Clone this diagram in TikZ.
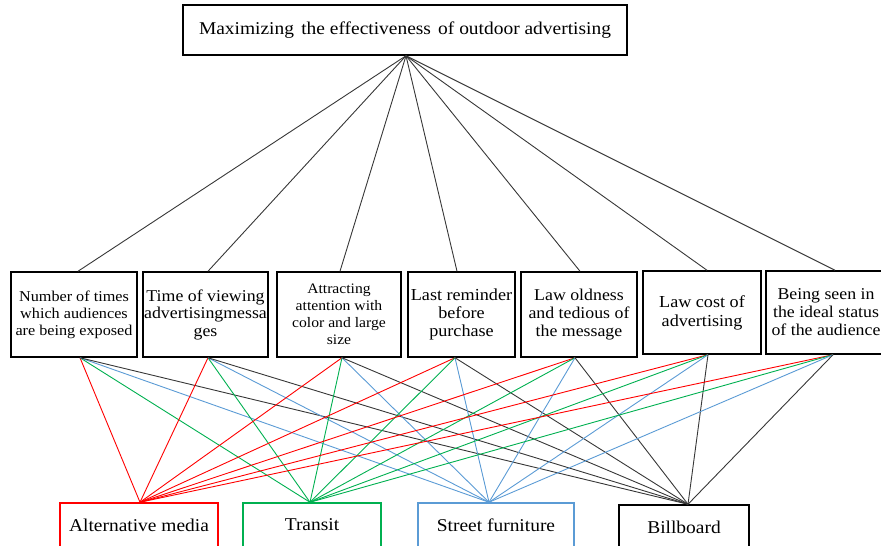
\documentclass[tikz,border=0pt]{standalone}
\usepackage{fontspec}
\setmainfont{Liberation Serif}[FakeStretch=1.08]
\usetikzlibrary{calc}
\definecolor{cred}{RGB}{255,0,0}
\definecolor{cgreen}{RGB}{0,176,80}
\definecolor{cblue}{RGB}{91,155,213}
\definecolor{cgray}{RGB}{55,55,55}
\begin{document}
\begin{tikzpicture}[x=1pt,y=-1pt,
  crit/.style={draw=black,line width=1.5pt,inner sep=0pt,align=center,
    font=\fontsize{14.5}{17}\selectfont,minimum height=85pt},
  alt/.style={line width=1.5pt,inner sep=0pt,align=center,
    font=\fontsize{18}{20}\selectfont,minimum height=44pt},
  lk/.style={line width=0.9pt}]
\useasboundingbox (0,0) rectangle (881,546);
\clip (0,0) rectangle (881,546);
% goal
\node[draw=black,line width=1.5pt,inner sep=0pt,minimum width=444pt,minimum height=50pt,
  font=\fontsize{18}{20}\selectfont] (top) at (405,30)
  {Maximizing\hspace{0.4em}the effectiveness\hspace{0.4em}of outdoor advertising\hspace{10pt}};
% criteria
\node[crit,minimum width=126pt,font=\fontsize{15}{17}\selectfont] (c1) at (74,314.5) {Number of times\\which audiences\\are being exposed};
\node[crit,minimum width=125pt,font=\fontsize{16.5}{17.5}\selectfont] (c2) at (205.5,314.5) {Time of viewing\\advertisingmessa\\ges};
\node[crit,minimum width=124pt] (c3) at (339,314.5) {Attracting\\attention with\\color and large\\size};
\node[crit,minimum width=107pt,font=\fontsize{16.8}{18}\selectfont] (c4) at (461.5,314.5) {Last reminder\\before\\purchase};
\node[crit,minimum width=116pt,font=\fontsize{16.5}{18}\selectfont] (c5) at (579,314.5) {Law oldness\\and tedious of\\the message};
\node[crit,minimum width=118pt,minimum height=83pt,font=\fontsize{16.8}{19}\selectfont] (c6) at (702,312.5) {Law cost of\\advertising};
\node[crit,minimum width=120pt,minimum height=83pt,font=\fontsize{16.5}{18}\selectfont] (c7) at (826,312.5) {Being seen in\\the ideal status\\of the audience};
% alternatives
\node[alt,draw=cred,minimum width=158pt] (a1) at (139,525) {Alternative media};
\node[alt,draw=cgreen,minimum width=138pt] (a2) at (312,525) {Transit};
\node[alt,draw=cblue,minimum width=156pt] (a3) at (496,525) {Street furniture};
\node[alt,draw=black,minimum width=130pt] (a4) at (684,527) {Billboard};
% connectors
\foreach \n/\t/\b in {c1/4/6, c2/2.5/2.5, c3/1/3, c4/-4.5/-6.5, c5/1/-4, c6/5/6, c7/9/7}{
  \draw[lk,cgray] ([xshift=\t pt]\n.north) -- ([xshift=1pt]top.south);
  \foreach \a/\col/\s in {a1/cred/1, a2/cgreen/-2, a3/cblue/-7, a4/cgray/4}{
    \draw[lk,\col] ([xshift=\b pt]\n.south) -- ([xshift=\s pt]\a.north);
  }
}
\end{tikzpicture}
\end{document}
